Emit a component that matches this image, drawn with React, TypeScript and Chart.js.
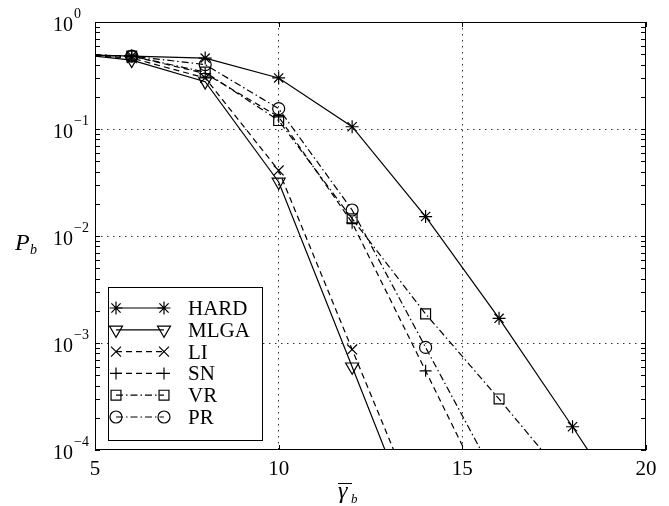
import React, { useEffect, useRef } from 'react';
import { Chart, registerables } from 'chart.js';

Chart.register(...registerables);

// ---- data ----
const snrValues = [5, 6, 8, 10, 12, 14, 16, 18, 20];
const hard = [0.49, 0.48, 0.46, 0.30, 0.105, 0.0152, 0.0017, 0.000165, 0.000015];
const mlga = [0.48, 0.44, 0.277, 0.032, 0.0006, 0.000011];
const li = [0.48, 0.46, 0.30, 0.041, 0.00087, 0.000019];
const sn = [0.49, 0.48, 0.33, 0.13, 0.0133, 0.00055, 0.000022];
const vr = [0.49, 0.48, 0.34, 0.12, 0.0145, 0.00187, 0.0003, 0.000045];
const pr = [0.49, 0.48, 0.40, 0.155, 0.0175, 0.00091, 0.000048];

const seriesLabels = ['HARD', 'MLGA', 'LI', 'SN', 'VR', 'PR'];
const seriesValues = [hard, mlga, li, sn, vr, pr];

const xTicks = [5, 10, 15, 20];
const yDecades = [0, -1, -2, -3, -4];

// ---- styles ----
const DASH = [6, 4];
const DASHDOT = [7, 3, 1.5, 3];
const GRID_DASH = [1.5, 4.5];
const seriesStyles = [
  { pointStyle: 'star', rotation: 0, radius: 6.5, dash: [] as number[] },
  { pointStyle: 'triangle', rotation: 180, radius: 7.5, dash: [] as number[] },
  { pointStyle: 'crossRot', rotation: 0, radius: 7, dash: DASH },
  { pointStyle: 'cross', rotation: 0, radius: 6, dash: DASH },
  { pointStyle: 'rect', rotation: 0, radius: 7, dash: DASHDOT },
  { pointStyle: 'circle', rotation: 0, radius: 6, dash: DASHDOT },
];

const SERIF = "'Liberation Serif', 'Times New Roman', serif";

function drawMarker(ctx: CanvasRenderingContext2D, style: string, x: number, y: number, r: number) {
  ctx.beginPath();
  const c = Math.SQRT1_2 * r;
  switch (style) {
    case 'star':
      ctx.moveTo(x - r, y); ctx.lineTo(x + r, y);
      ctx.moveTo(x, y - r); ctx.lineTo(x, y + r);
      ctx.moveTo(x - c, y - c); ctx.lineTo(x + c, y + c);
      ctx.moveTo(x - c, y + c); ctx.lineTo(x + c, y - c);
      break;
    case 'triangle': {
      const s = Math.sin(Math.PI / 3) * r;
      ctx.moveTo(x, y + r);
      ctx.lineTo(x - s, y - r / 2);
      ctx.lineTo(x + s, y - r / 2);
      ctx.closePath();
      break;
    }
    case 'crossRot':
      ctx.moveTo(x - c, y - c); ctx.lineTo(x + c, y + c);
      ctx.moveTo(x - c, y + c); ctx.lineTo(x + c, y - c);
      break;
    case 'cross':
      ctx.moveTo(x - r, y); ctx.lineTo(x + r, y);
      ctx.moveTo(x, y - r); ctx.lineTo(x, y + r);
      break;
    case 'rect':
      ctx.rect(x - c, y - c, 2 * c, 2 * c);
      break;
    case 'circle':
      ctx.arc(x, y, r, 0, Math.PI * 2);
      break;
  }
  ctx.stroke();
}

const isDecade = (v: number) => {
  const l = Math.log10(v);
  return Math.abs(l - Math.round(l)) < 1e-9;
};

const decorPlugin = {
  id: 'decor',
  afterDraw(chart: any) {
    const { ctx, chartArea: ca, scales } = chart;
    const xs = scales.x;
    const ys = scales.y;
    ctx.save();
    ctx.strokeStyle = '#000';
    ctx.fillStyle = '#000';
    ctx.lineWidth = 1;
    ctx.setLineDash([]);

    // box
    ctx.strokeRect(ca.left + 0.5, ca.top + 0.5, ca.right - ca.left - 1, ca.bottom - ca.top - 1);

    // inward tick marks
    const TL = 5;
    ctx.beginPath();
    xTicks.forEach((v) => {
      const px = Math.round(xs.getPixelForValue(v)) + 0.5;
      ctx.moveTo(px, ca.bottom); ctx.lineTo(px, ca.bottom - TL);
      ctx.moveTo(px, ca.top); ctx.lineTo(px, ca.top + TL);
    });
    for (let d = yDecades[yDecades.length - 1]; d < yDecades[0]; d++) {
      for (let m = 1; m <= 9; m++) {
        const py = Math.round(ys.getPixelForValue(m * Math.pow(10, d))) + 0.5;
        ctx.moveTo(ca.left, py); ctx.lineTo(ca.left + TL, py);
        ctx.moveTo(ca.right, py); ctx.lineTo(ca.right - TL, py);
      }
    }
    ctx.stroke();

    // x tick labels
    ctx.font = `21px ${SERIF}`;
    ctx.textAlign = 'center';
    ctx.textBaseline = 'alphabetic';
    xTicks.forEach((v) => {
      ctx.fillText(String(v), xs.getPixelForValue(v), ca.bottom + 25);
    });

    // y tick labels (10^n)
    ctx.textAlign = 'left';
    yDecades.forEach((d) => {
      const py = ys.getPixelForValue(Math.pow(10, d));
      ctx.font = `20px ${SERIF}`;
      const baseX = 53;
      ctx.fillText('10', baseX, py + 9);
      const w = ctx.measureText('10').width;
      ctx.font = `14px ${SERIF}`;
      ctx.fillText(d < 0 ? '\u2212' + String(-d) : String(d), baseX + w + 1, py - 4);
    });

    // axis titles
    ctx.font = `italic 24px ${SERIF}`;
    ctx.fillText('P', 15, 250);
    ctx.font = `italic 14px ${SERIF}`;
    ctx.fillText('b', 30, 254);

    ctx.font = `italic 24px ${SERIF}`;
    ctx.fillText('\u03B3', 338, 498);
    ctx.font = `italic 13px ${SERIF}`;
    ctx.fillText('b', 351, 503);
    ctx.beginPath();
    ctx.moveTo(338, 483.5); ctx.lineTo(352, 483.5);
    ctx.stroke();

    // legend
    const lx = ca.left + 13;
    const ly = ca.top + 265;
    const lw = 154;
    const lh = 153;
    ctx.fillStyle = '#fff';
    ctx.fillRect(lx, ly, lw, lh);
    ctx.strokeRect(lx + 0.5, ly + 0.5, lw, lh);
    ctx.fillStyle = '#000';
    seriesLabels.forEach((label, i) => {
      const st = seriesStyles[i];
      const ry = ly + 21 + i * 21.8;
      const x0 = lx + 8;
      const x1 = lx + 56;
      ctx.lineWidth = 1.2;
      ctx.setLineDash(st.dash);
      ctx.beginPath();
      ctx.moveTo(x0, ry); ctx.lineTo(x1, ry);
      ctx.stroke();
      ctx.setLineDash([]);
      drawMarker(ctx, st.pointStyle, x0, ry, st.radius);
      drawMarker(ctx, st.pointStyle, x1, ry, st.radius);
      ctx.font = `21px ${SERIF}`;
      ctx.textAlign = 'left';
      ctx.fillText(label, lx + 80, ry + 7);
    });
    ctx.restore();
  },
};

export default function App() {
  const canvasRef = useRef<HTMLCanvasElement | null>(null);

  useEffect(() => {
    const canvas = canvasRef.current;
    if (!canvas) return;
    const datasets = seriesValues.map((vals, i) => {
      const st = seriesStyles[i];
      return {
        label: seriesLabels[i],
        data: vals.map((v, j) => ({ x: snrValues[j], y: v })),
        showLine: true,
        borderColor: '#000',
        backgroundColor: 'rgba(0,0,0,0)',
        borderWidth: 1.2,
        borderDash: st.dash,
        pointStyle: st.pointStyle,
        rotation: st.rotation,
        pointRotation: st.rotation,
        pointRadius: (c: any) => (c.dataIndex === 0 ? 0 : st.radius),
        pointBorderColor: '#000',
        pointBackgroundColor: 'rgba(0,0,0,0)',
        pointBorderWidth: 1.2,
        tension: 0,
        clip: 0,
      };
    });

    const chart = new Chart(canvas, {
      type: 'scatter',
      data: { datasets },
      options: {
        animation: false,
        responsive: true,
        maintainAspectRatio: false,
        layout: { padding: { top: 22, right: 23, left: 0, bottom: 0 }, autoPadding: false },
        plugins: { legend: { display: false }, tooltip: { enabled: false } },
        scales: {
          x: {
            type: 'linear',
            min: 5,
            max: 20,
            ticks: { display: false, stepSize: 5 },
            border: { display: false, dash: GRID_DASH },
            grid: {
              drawTicks: false,
              lineWidth: 1,
              color: (c: any) => {
                const v = c.tick ? c.tick.value : null;
                return v === 10 || v === 15 ? '#333' : 'rgba(0,0,0,0)';
              },
              borderDash: GRID_DASH,
            } as any,
            afterFit: (s: any) => { s.height = 56; },
          },
          y: {
            type: 'logarithmic',
            min: 1e-4,
            max: 1,
            ticks: { display: false },
            border: { display: false, dash: GRID_DASH },
            grid: {
              drawTicks: false,
              lineWidth: 1,
              color: (c: any) => {
                const v = c.tick ? c.tick.value : null;
                if (v == null) return 'rgba(0,0,0,0)';
                if (v <= 1e-4 * 1.0001 || v >= 0.9999) return 'rgba(0,0,0,0)';
                return isDecade(v) ? '#333' : 'rgba(0,0,0,0)';
              },
              borderDash: GRID_DASH,
            } as any,
            afterFit: (s: any) => { s.width = 95; },
          },
        },
      } as any,
      plugins: [decorPlugin],
    });
    return () => chart.destroy();
  }, []);

  return (
    <div style={{ position: 'fixed', left: 0, top: 0, width: 669, height: 506, background: '#fff' }}>
      <canvas ref={canvasRef} />
    </div>
  );
}
